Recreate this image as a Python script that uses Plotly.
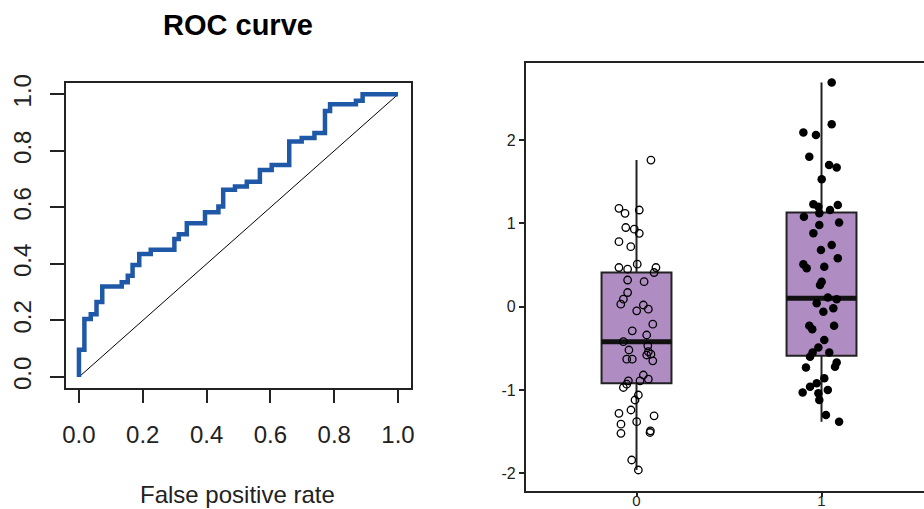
import plotly.graph_objects as go

# ---------------- data ----------------
# ROC staircase (vh steps): false positive rate, true positive rate
roc_fpr = [0, 0.017, 0.037, 0.055, 0.073, 0.134, 0.153, 0.168, 0.189, 0.225,
           0.299, 0.313, 0.338, 0.395, 0.437, 0.452, 0.489, 0.526, 0.567, 0.604,
           0.659, 0.698, 0.738, 0.771, 0.787, 0.868, 0.889, 1.0]
roc_tpr = [0, 0.096, 0.205, 0.222, 0.265, 0.32, 0.335, 0.358, 0.396, 0.435,
           0.45, 0.488, 0.505, 0.544, 0.583, 0.603, 0.662, 0.674, 0.691, 0.732,
           0.75, 0.833, 0.845, 0.863, 0.941, 0.965, 0.977, 1.0]
diag = [0, 1]
roc_xticks = [0, 0.2, 0.4, 0.6, 0.8, 1.0]

# Boxplot: groups and summary statistics
groups = ["0", "1"]
group_pos = [0, 1]
q1 = [-0.92, -0.59]
median = [-0.42, 0.10]
q3 = [0.41, 1.13]
lower_whisker = [-1.96, -1.38]
upper_whisker = [1.76, 2.69]
box_yticks = [-2, -1, 0, 1, 2]

# Jittered points, group "0" (open circles): jitter x offset, value
jit0 = [0.078, -0.095, -0.062, 0.015, -0.058, -0.012, 0.015, -0.095, -0.031, 0.004,
        -0.095, -0.048, 0.105, 0.095, -0.048, 0.041, -0.048, -0.071, -0.085, 0.037,
        0.064, 0.001, 0.088, -0.023, 0.055, -0.071, 0.061, -0.041, 0.064, 0.078,
        0.088, -0.053, -0.023, 0.055, 0.037, 0.064, 0.019, -0.044, -0.053, -0.071,
        0.010, -0.008, -0.030, -0.095, 0.095, 0.001, -0.084, -0.084, 0.073, 0.075,
        -0.026, 0.010]
val0 = [1.76, 1.18, 1.12, 1.16, 0.95, 0.93, 0.88, 0.78, 0.72, 0.51,
        0.47, 0.45, 0.47, 0.41, 0.32, 0.30, 0.17, 0.09, 0.03, 0.02,
        -0.03, -0.05, -0.21, -0.29, -0.34, -0.42, -0.47, -0.52, -0.54, -0.57,
        -0.65, -0.63, -0.63, -0.58, -0.82, -0.87, -0.89, -0.89, -0.93, -0.97,
        -1.06, -1.12, -1.24, -1.28, -1.31, -1.38, -1.41, -1.52, -1.51, -1.49,
        -1.84, -1.96]

# Jittered points, group "1" (filled circles)
jit1 = [0.055, 0.055, -0.098, -0.030, -0.066, 0.041, 0.082, 0.001, -0.044, -0.017,
        0.088, 0.046, -0.012, -0.095, -0.012, 0.095, -0.044, 0.055, -0.003, 0.088,
        -0.098, -0.080, 0.015, -0.008, 0.001, 0.034, 0.082, -0.026, 0.064, 0.010,
        -0.066, -0.050, 0.068, 0.015, -0.017, -0.048, 0.042, -0.062, 0.082, 0.073,
        -0.084, 0.015, -0.026, -0.062, 0.034, -0.102, -0.017, -0.012, 0.024, 0.095]
val1 = [2.69, 2.19, 2.09, 2.06, 1.80, 1.70, 1.67, 1.53, 1.23, 1.20,
        1.22, 1.16, 1.12, 1.08, 0.98, 1.01, 0.88, 0.74, 0.68, 0.58,
        0.51, 0.46, 0.48, 0.26, 0.30, 0.11, 0.09, 0.04, -0.02, -0.06,
        -0.23, -0.27, -0.23, -0.40, -0.49, -0.55, -0.55, -0.60, -0.67, -0.72,
        -0.73, -0.86, -0.92, -0.96, -1.00, -1.03, -1.04, -1.12, -1.30, -1.38]

# ---------------- figure ----------------
W, H = 924, 509
BOX_W = 0.378
FONT = "Liberation Sans, Arial, sans-serif"
AX = "#222222"

fig = go.Figure()

# ROC panel
fig.add_trace(go.Scatter(x=diag, y=diag, mode="lines",
                         line=dict(color="black", width=1),
                         xaxis="x", yaxis="y", showlegend=False, hoverinfo="skip"))
fig.add_trace(go.Scatter(x=roc_fpr, y=roc_tpr, mode="lines",
                         line=dict(color="#2058A8", width=4.5, shape="vh"),
                         xaxis="x", yaxis="y", showlegend=False))

# Boxplot panel
fig.add_trace(go.Box(x=group_pos, q1=q1, median=median, q3=q3,
                     lowerfence=lower_whisker, upperfence=upper_whisker,
                     width=BOX_W, whiskerwidth=0, boxpoints=False,
                     fillcolor="#AF8DC3", line=dict(color=AX, width=2),
                     xaxis="x2", yaxis="y2", showlegend=False))

mx, my = [], []
for p, m in zip(group_pos, median):
    mx += [p - BOX_W / 2, p + BOX_W / 2, None]
    my += [m, m, None]
fig.add_trace(go.Scatter(x=mx, y=my, mode="lines",
                         line=dict(color="#111111", width=5),
                         xaxis="x2", yaxis="y2", showlegend=False, hoverinfo="skip"))

fig.add_trace(go.Scatter(x=[group_pos[0] + j for j in jit0], y=val0, mode="markers",
                         marker=dict(symbol="circle-open", size=7.5, color="black",
                                     line=dict(width=1.3, color="black")),
                         xaxis="x2", yaxis="y2", showlegend=False))
fig.add_trace(go.Scatter(x=[group_pos[1] + j for j in jit1], y=val1, mode="markers",
                         marker=dict(symbol="circle", size=8.5, color="black",
                                     line=dict(width=0)),
                         xaxis="x2", yaxis="y2", showlegend=False))

def px_x(p):
    return p / W

def px_y(p):
    return 1 - p / H

common = dict(showgrid=False, zeroline=False, showline=True, linecolor=AX,
              linewidth=1.5, ticks="outside", tickcolor=AX, tickwidth=1.5,
              automargin=False)

fig.update_layout(
    width=W, height=H, margin=dict(l=0, r=0, t=0, b=0, autoexpand=False),
    paper_bgcolor="white", plot_bgcolor="white",
    font=dict(family=FONT, color="black"),
    xaxis=dict(**common, domain=[px_x(66.2), px_x(410.8)], range=[-0.04, 1.04],
               anchor="y", mirror=True, ticklen=13, tickvals=roc_xticks,
               ticktext=[f"{v:.1f}" for v in roc_xticks],
               tickfont=dict(size=24, color="#222"), ticklabelstandoff=11),
    yaxis=dict(**common, domain=[px_y(388.3), px_y(83.0)], range=[-0.04, 1.04],
               anchor="x", mirror=True, ticklen=14, tickvals=roc_xticks,
               ticktext=[f"{v:.1f}" for v in roc_xticks], tickangle=-90,
               tickfont=dict(size=24, color="#222"), ticklabelstandoff=10),
    xaxis2=dict(**common, domain=[px_x(525.7), 1.0], range=[-0.599, 1.554],
                anchor="y2", mirror=True, ticklen=5, tickvals=group_pos,
                ticktext=groups, ticklabelstandoff=-9,
                tickfont=dict(size=15, color="#222")),
    yaxis2=dict(**common, domain=[px_y(490.5), px_y(62.7)], range=[-2.206, 2.928],
                anchor="x2", mirror=False, ticklen=5, tickvals=box_yticks,
                ticktext=[str(v) for v in box_yticks],
                tickfont=dict(size=16, color="#222")),
    annotations=[
        dict(text="<b>ROC curve</b>", x=px_x(237.5), y=px_y(25), xref="paper",
             yref="paper", showarrow=False, xanchor="center", yanchor="middle",
             font=dict(size=29, color="black")),
        dict(text="False positive rate", x=px_x(237.5), y=px_y(494), xref="paper",
             yref="paper", showarrow=False, xanchor="center", yanchor="middle",
             font=dict(size=24, color="#222")),
    ],
)

fig.write_html("out.html")
